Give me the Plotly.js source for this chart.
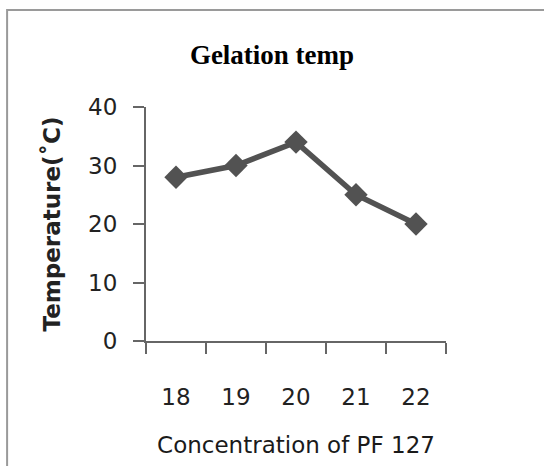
<!DOCTYPE html>
<html><head><meta charset="utf-8">
<script src="https://cdn.plot.ly/plotly-3.0.1.min.js"></script>
<style>html,body{margin:0;padding:0;background:#fff}</style>
</head><body><div id="chart" style="width:544px;height:466px"></div>
<script>
const categories = ["18", "19", "20", "21", "22"];
const temperatures = [28, 30, 34, 25, 20];
const yTicks = [0, 10, 20, 30, 40];

const trace = {
  x: categories, y: temperatures, type: 'scatter', mode: 'lines+markers',
  line: {color: '#525252', width: 5.5},
  marker: {symbol: 'diamond', size: 18, color: '#525252'}
};
const fontSans = 'DejaVu Sans, Verdana, sans-serif';
const layout = {
  width: 544, height: 466,
  margin: {l: 146, r: 98, t: 107, b: 125},
  paper_bgcolor: '#ffffff', plot_bgcolor: '#ffffff',
  showlegend: false,
  title: {text: '<b>Gelation temp</b>', font: {family: 'Liberation Serif, Times New Roman, serif', size: 27, color: '#000'},
    x: 0.5, xanchor: 'center', y: 0.882, yanchor: 'middle'},
  xaxis: {type: 'category', range: [-0.5, 4.5], tickson: 'boundaries', ticks: 'outside', ticklen: 11, tickwidth: 2, tickcolor: '#666',
    showline: true, linecolor: '#666', linewidth: 2, showgrid: false, zeroline: false,
    ticklabelstandoff: 34, tickfont: {family: fontSans, size: 23, color: '#222'},
    title: {text: 'Concentration of PF 127', font: {family: fontSans, size: 23, color: '#1a1a1a'}, standoff: 28}},
  yaxis: {range: [0, 40], tickvals: yTicks, ticks: 'outside', ticklen: 11, tickwidth: 2, tickcolor: '#666',
    showline: true, linecolor: '#666', linewidth: 2, showgrid: false, zeroline: false,
    tickfont: {family: fontSans, size: 23, color: '#222'}, ticklabelstandoff: 11,
    title: {text: '<b>Temperature(˚C)</b>', font: {family: fontSans, size: 23, color: '#222'}, standoff: 21}},
  shapes: [{type: 'rect', xref: 'paper', yref: 'paper', x0: -0.463, x1: 1.36, y0: -0.6, y1: 1.4145,
    line: {color: '#9a9a9a', width: 2}, fillcolor: 'rgba(0,0,0,0)'}]
};
Plotly.newPlot('chart', [trace], layout, {displayModeBar: false, staticPlot: true});
</script></body></html>
